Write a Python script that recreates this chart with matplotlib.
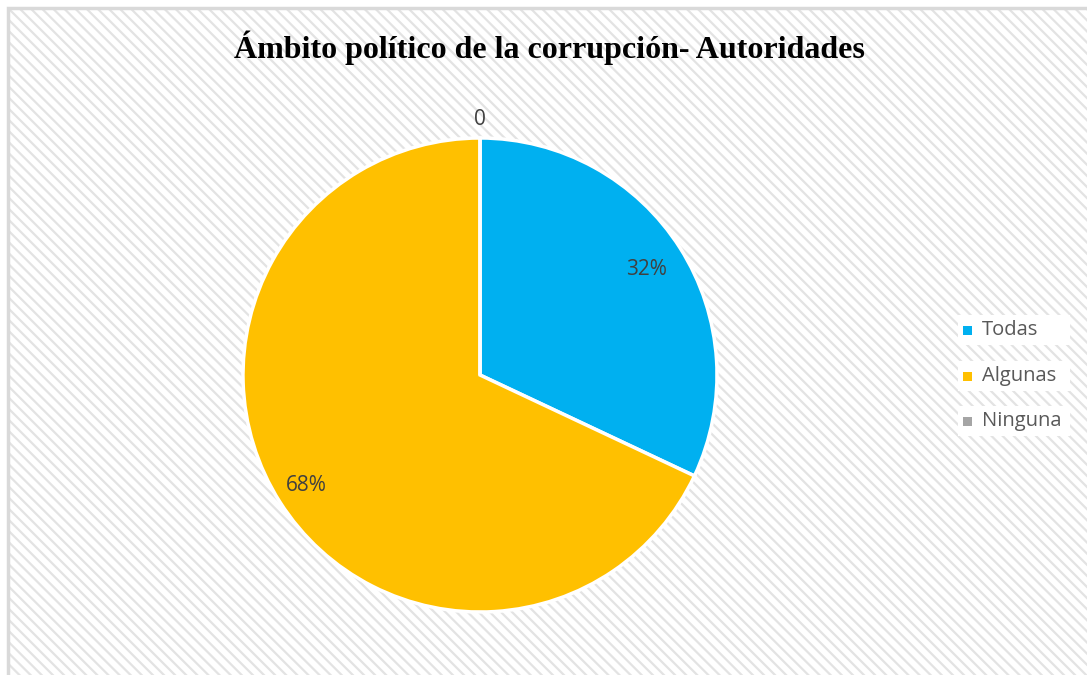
import matplotlib.pyplot as plt
from matplotlib.patches import Rectangle
import numpy as np

# data
categorias = ['Todas', 'Algunas', 'Ninguna']
valores = [32, 68, 0]
etiquetas = ['32%', '68%', '0']
colores = ['#00B0F0', '#FFC000', '#A5A5A5']
titulo = 'Ámbito político de la corrupción- Autoridades'

W, H = 1087, 675
plt.rcParams['hatch.linewidth'] = 1.6
plt.rcParams['hatch.color'] = '#e3e3e3'

fig = plt.figure(figsize=(W / 100, H / 100), dpi=100)
fig.patch.set_facecolor('white')

# hatched chart background with light border (top/left visible)
bg = Rectangle((8 / W, -0.01), 1.02, 1 - 8 / H + 0.01, transform=fig.transFigure,
               facecolor='white', edgecolor='#e3e3e3', hatch='\\\\\\', linewidth=0, zorder=-2)
fig.patches.append(bg)
border = Rectangle((8 / W, -0.01), 1.02, 1 - 8 / H + 0.01, transform=fig.transFigure,
                   facecolor='none', edgecolor='#d9d9d9', linewidth=2.5, zorder=-1)
fig.patches.append(border)

fig.text(549 / W, 1 - 48 / H, titulo, ha='center', va='center',
         fontsize=23, fontweight='bold', family='Liberation Serif', color='black')

# pie
cx, cy, r = 480, 375, 237
ax = fig.add_axes([(cx - r) / W, (H - cy - r) / H, 2 * r / W, 2 * r / H])
wedges, _ = ax.pie(valores, colors=colores, startangle=90, counterclock=False,
                   radius=1, wedgeprops=dict(edgecolor='white', linewidth=2.5))
ax.set_xlim(-1, 1)
ax.set_ylim(-1, 1)
ax.axis('off')

dist = [0.83, 0.87, 1.08]
for w, lab, d in zip(wedges, etiquetas, dist):
    ang = np.deg2rad((w.theta1 + w.theta2) / 2)
    ax.text(d * np.cos(ang), d * np.sin(ang), lab, ha='center', va='center',
            fontsize=15, color='#404040', family='Open Sans')

# legend with white boxes behind entries
leg_y = [330, 376, 421]
for cat, col, y in zip(categorias, colores, leg_y):
    fig.patches.append(Rectangle((958 / W, 1 - (y + 15) / H), 112 / W, 30 / H,
                                 transform=fig.transFigure, facecolor='white',
                                 edgecolor='none', zorder=2))
    fig.patches.append(Rectangle((963 / W, 1 - (y + 4.5) / H), 9 / W, 9 / H,
                                 transform=fig.transFigure, facecolor=col,
                                 edgecolor='none', zorder=3))
    fig.text(982 / W, 1 - y / H, cat, ha='left', va='center', fontsize=14.5,
             color='#595959', family='Open Sans', zorder=4)

fig.savefig('out.png', dpi=100)
